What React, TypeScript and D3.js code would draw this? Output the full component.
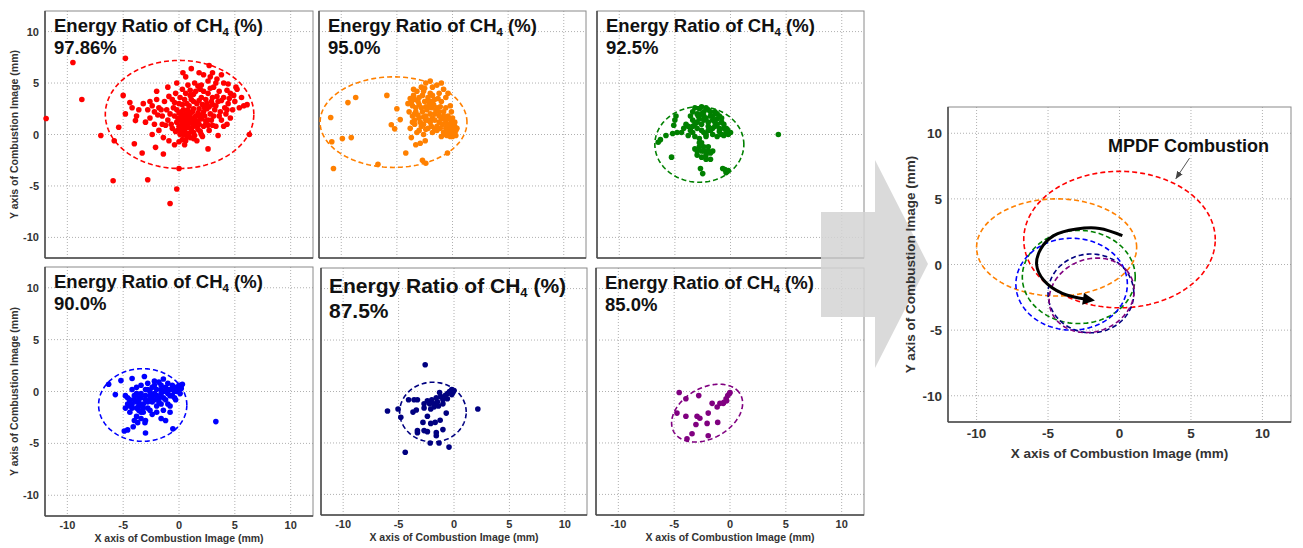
import * as d3 from "d3";

type Pt = [number, number];

const tickValues = [-10, -5, 0, 5, 10];
const ratioLabels = ["97.86%", "95.0%", "92.5%", "90.0%", "87.5%", "85.0%"];
const seriesColors = ["#ff0000", "#ff8000", "#008000", "#0000ff", "#000080", "#800080"];

const redPoints: Pt[] = [
  [-11.9, 1.55], [-9.5, 7.0], [-8.7, 3.4], [-4.8, 7.4], [-7.0, -0.1], [-5.8, -0.6], [-5.9, -4.5],
  [-5.4, 0.7], [-5.0, 3.8], [-4.8, 2.0], [-4.4, 3.1], [-4.0, -0.9], [-3.9, 1.35], [-3.3, -1.8],
  [-2.8, -4.4], [-2.1, -1.25], [-1.4, -1.9], [-0.8, -6.7], [-0.2, -5.3], [0.0, -3.3], [2.6, -1.4],
  [4.3, 1.0], [6.3, 0.0], [5.1, 4.6], [6.1, 2.9], [2.7, 6.7], [1.1, 6.4], [0.35, 6.0],
  [0.5, 1.0], [0.8, 1.5], [1.0, 2.0], [1.2, 1.2], [0.3, 0.5], [0.6, 0.2], [1.5, 1.8], [1.8, 2.5],
  [2.0, 1.5], [0.2, 1.8], [-0.2, 1.2], [0.0, 0.8], [0.4, 2.4], [0.9, 2.8], [1.3, 3.2], [1.6, 0.8],
  [2.2, 2.2], [2.5, 3.0], [2.8, 2.0], [1.1, 0.4], [0.7, -0.2], [0.1, 0.0], [-0.3, 0.3], [0.3, -0.5],
  [0.0, -0.7], [1.4, -0.1], [1.9, 0.3], [2.4, 1.0], [2.9, 1.4], [3.2, 2.4], [3.5, 3.2], [3.0, 3.6],
  [2.6, 4.0], [2.0, 3.6], [1.5, 4.2], [1.0, 3.8], [0.5, 3.4], [0.0, 3.0], [-0.5, 2.6], [-0.8, 2.0],
  [-1.0, 1.4], [-0.6, 0.6], [-1.2, 0.9], [-1.5, 1.8], [-1.8, 2.6], [-1.3, 3.2], [-0.9, 3.7],
  [-0.3, 4.0], [0.3, 4.4], [0.8, 4.8], [1.4, 5.0], [2.0, 4.8], [2.6, 5.2], [3.1, 4.6], [3.6, 4.2],
  [4.0, 3.6], [4.4, 3.0], [4.8, 2.4], [4.2, 2.0], [3.8, 1.4], [3.3, 0.8], [2.7, 0.4], [2.1, -0.2],
  [1.6, -0.6], [4.6, 4.0], [5.0, 3.2], [5.4, 2.6], [4.0, 5.0], [3.4, 5.4], [2.2, 5.8], [1.8, 6.0],
  [-2.0, 3.4], [-2.4, 2.8], [-2.8, 2.4], [-3.2, 3.0], [-3.6, 2.4], [-2.6, 1.6], [-2.2, 1.0],
  [-1.8, 0.4], [-2.4, 0.0], [-1.4, -0.3], [-0.9, -0.6], [-0.4, -1.0], [0.5, -1.0], [-3.0, 1.2],
  [-3.8, 1.8], [-4.2, 2.6], [-2.0, 4.2], [-1.0, 4.6], [-0.2, 5.0], [0.6, 5.6], [3.0, 6.0],
  [3.8, 5.8], [5.2, 4.4], [5.6, 3.6], [5.8, 2.8], [4.6, 1.6], [4.0, 0.8], [3.5, -0.1], [1.0, -0.3],
  [0.2, 2.2], [0.6, 2.0], [1.3, 2.5], [1.7, 1.3], [2.3, 1.8], [0.9, 1.1], [1.2, 0.7], [0.4, 1.4],
  [-0.1, 1.6], [1.6, 3.0], [2.1, 2.9], [2.5, 2.5], [3.3, 2.8], [3.7, 2.2], [2.9, 3.2], [4.3, 4.3],
  [1.9, 4.4], [1.1, 3.4], [0.7, 3.0], [-0.6, 3.4], [-1.6, 2.4], [1.4, 1.6], [1.0, 1.7], [0.8, 0.7],
  [1.8, 1.0], [2.6, 1.4], [0.2, 0.9],
  [0.3, 1.2], [0.7, 1.3], [1.1, 1.5], [1.5, 1.2], [1.9, 1.9], [2.3, 2.6], [0.5, 0.6], [0.9, 0.1],
  [1.3, 0.2], [1.7, 0.5], [2.2, 0.8], [0.1, 1.4], [-0.4, 1.8], [-0.2, 2.4], [0.3, 2.9], [0.8, 2.4],
  [1.2, 2.2], [1.7, 2.1], [2.7, 2.7], [3.0, 2.9], [3.4, 3.7], [3.8, 3.3], [4.1, 2.6], [4.5, 3.5],
  [2.4, 3.4], [1.8, 3.3], [1.3, 3.9], [0.6, 4.0], [0.1, 3.6], [-0.4, 3.1], [2.2, 4.2], [2.8, 4.5],
  [3.3, 5.0], [1.7, 4.7], [1.0, 4.3], [0.4, 0.0], [-0.1, 0.4], [0.6, -0.6], [1.3, -0.4], [2.0, 0.0],
  [2.6, 0.9], [3.1, 1.8], [0.0, 2.1], [0.6, 1.7], [1.4, 0.9], [1.9, 1.6], [2.4, 1.3], [0.2, 0.3],
  [-0.7, 1.0], [-1.1, 2.4], [-1.9, 1.9], [-2.2, 2.2], [-2.6, 3.2], [-1.5, 1.0], [4.9, 3.8],
  [4.3, 2.4], [3.6, 1.8], [3.0, 0.9], [2.8, 5.6], [4.4, 4.9],
];

const orangePoints: Pt[] = [
  [-10.95, 1.65], [-10.85, -0.7], [-10.7, -3.3], [-9.9, -0.4], [-9.1, -0.3], [-9.4, 3.1], [-8.7, 3.6],
  [-5.9, 3.8], [-6.7, -2.9], [-5.0, 2.5], [-5.5, 0.95], [-5.2, 0.55], [-4.7, 1.45], [-4.2, -1.8],
  [-3.3, -1.0], [-2.9, -0.85], [-2.45, -0.6], [-2.7, -2.5], [-2.4, -2.8], [-0.45, -1.8], [-3.7, -0.3],
  [-3.8, 3.5], [-3.5, 3.8], [-3.2, 4.2], [-3.6, 2.8], [-3.3, 2.2], [-3.0, 1.6], [-3.4, 1.0],
  [-3.8, 0.6], [-3.0, 0.4], [-2.6, 1.0], [-2.4, 1.8], [-2.8, 2.6], [-2.5, 3.2], [-2.2, 3.6],
  [-2.8, 4.6], [-2.4, 5.0], [-2.0, 5.2], [-1.8, 4.6], [-2.0, 4.0], [-1.6, 3.4], [-1.9, 2.6],
  [-2.0, 2.0], [-1.6, 1.4], [-2.2, 0.6], [-1.8, 0.2], [-1.4, 0.8], [-1.2, 1.8], [-1.4, 2.6],
  [-1.0, 3.2], [-1.2, 4.0], [-0.8, 4.4], [-0.6, 3.6], [-0.6, 2.6], [-0.8, 1.8], [-0.9, 1.0],
  [-0.6, 0.6], [-0.4, 0.2], [-0.2, 0.0], [0.0, -0.2], [0.2, 0.2], [0.0, 0.6], [-0.2, 1.0],
  [0.2, 1.2], [0.0, 1.6], [-0.3, 1.5], [-0.5, -0.1], [-0.8, 0.2], [-1.0, -0.2], [0.3, -0.1],
  [0.4, 0.6], [-3.1, 3.2], [-2.7, 3.8], [-2.3, 2.4], [-2.9, 1.2], [-3.2, 0.2], [-2.6, 0.0],
  [-2.0, 1.2], [-1.6, 2.0], [-1.2, 2.2], [-3.6, 1.8], [-3.9, 2.2], [-4.0, 3.0], [-3.5, 4.4],
  [-1.4, 4.8], [-1.0, 5.0], [-0.4, 4.0], [-0.2, 2.8], [-0.1, 2.2], [-0.6, 1.2], [-1.4, 0.4],
  [-2.4, 1.4], [-2.1, 3.0], [-1.8, 3.8], [-2.6, 4.2], [-3.4, 3.4], [-0.3, 0.4], [0.1, 0.9],
  [-0.4, 0.8], [-0.7, 0.0], [-1.1, 0.6],
  [-3.7, 3.1], [-3.3, 2.6], [-3.0, 2.9], [-2.7, 2.2], [-2.4, 2.7], [-2.2, 3.3], [-1.9, 3.2],
  [-1.7, 2.9], [-1.5, 2.4], [-1.8, 1.6], [-2.2, 1.4], [-2.6, 1.7], [-3.1, 1.9], [-3.4, 1.4],
  [-2.8, 0.8], [-2.4, 0.5], [-1.9, 0.8], [-1.6, 0.5], [-1.2, 1.2], [-1.0, 1.5], [-0.7, 1.5],
  [-0.5, 1.0], [-0.3, 0.7], [-0.1, 0.3], [0.1, 0.0], [0.3, 0.4], [0.2, 0.8], [-0.1, 1.3],
  [-0.4, 1.8], [-0.8, 2.2], [-1.1, 2.7], [-1.3, 3.5], [-2.5, 4.5], [-3.0, 3.6], [-3.4, 2.0],
  [-3.6, 1.2], [-2.0, 2.7], [-0.2, -0.2], [0.0, 0.4], [-0.5, 0.4],
];

const greenPoints: Pt[] = [
  [-4.0, 1.0], [-3.6, 0.4], [-3.4, 1.4], [-3.0, 2.0], [-2.8, 2.5], [-2.4, 2.2], [-2.2, 1.6],
  [-2.6, 1.0], [-3.0, 0.6], [-2.4, 0.2], [-2.0, 0.8], [-1.8, 1.8], [-1.4, 2.2], [-1.0, 1.8],
  [-0.8, 1.2], [-0.6, 0.6], [-0.4, 0.2], [-0.2, 0.0], [0.0, 0.2], [-0.6, -0.1], [-1.0, 0.3],
  [-1.4, 0.8], [-1.6, 1.4], [-2.0, 2.4], [-2.6, 2.7], [-3.2, 2.6], [-3.6, 1.8], [-4.2, 0.6],
  [-3.8, -0.1], [-3.2, -0.2], [-2.8, -0.4], [-2.2, -0.2], [-1.6, 0.0], [-1.2, -0.2], [-0.8, 0.0],
  [-2.6, -0.8], [-2.8, -1.2], [-3.2, -1.4], [-2.4, -1.6], [-2.0, -1.2], [-2.2, -2.0], [-1.8, -2.4],
  [-2.6, -2.2], [-3.0, -2.0], [-1.6, -1.6], [-2.7, -3.3], [-2.5, -3.8], [-0.7, -3.3], [-0.35, -3.6],
  [-0.5, -3.4], [-1.2, 1.0], [-2.0, 1.2], [-2.4, 1.4], [-3.0, 1.2], [-1.8, 0.4], [-0.3, 0.5],
  [-1.2, 1.5], [-2.9, 1.8], [-3.4, 0.8], [-4.4, 0.2], [-5.3, -2.2], [-6.5, -0.75], [-6.3, -0.5],
  [-5.8, -0.1], [-5.2, 0.1], [-5.0, 1.4], [-5.1, 0.9], [-4.8, 0.2], [-4.9, 1.8], [4.3, 0.0],
  [-3.8, 0.8], [-3.4, 0.2], [-3.2, 1.0], [-2.8, 1.5], [-2.6, 2.0], [-2.2, 2.6], [-1.8, 2.2],
  [-1.6, 1.8], [-1.2, 2.0], [-0.8, 1.6], [-0.6, 1.0], [-0.4, 0.6], [-0.2, 0.3], [-1.0, 0.6],
  [-1.6, 0.6], [-2.0, 0.4], [-2.2, 0.0], [-2.6, 0.4], [-2.8, -0.8], [-2.4, -1.2], [-2.0, -1.6],
  [-2.6, -1.6], [-3.0, -1.6], [-2.2, -2.4], [-1.8, -1.8], [-0.4, -3.7], [-0.2, -3.5], [-1.4, 1.2],
  [-2.4, 1.8], [-3.4, 2.2],
];

const bluePoints: Pt[] = [
  [-4.8, -0.4], [-4.6, -1.2], [-4.4, -0.8], [-4.2, -1.6], [-4.0, -0.4], [-3.8, -1.0], [-3.6, -1.8],
  [-3.6, -0.6], [-3.4, -0.2], [-3.2, -1.2], [-3.0, -0.8], [-3.0, 0.2], [-2.8, -1.6], [-2.6, -0.4],
  [-2.4, -1.0], [-2.4, 0.4], [-2.2, -0.2], [-2.0, -1.4], [-2.0, 0.2], [-1.8, -0.6], [-1.6, 0.6],
  [-1.6, -1.2], [-1.4, 0.0], [-1.2, -0.8], [-1.2, 0.4], [-1.0, 0.8], [-1.0, -0.2], [-0.8, 0.2],
  [-0.6, 0.6], [-0.6, -0.4], [-0.4, 0.0], [-0.2, 0.4], [0.0, 0.6], [0.2, 0.3], [0.3, 0.7],
  [0.1, -0.2], [-0.3, -0.8], [-0.8, -1.4], [-1.4, -1.8], [-1.6, -2.6], [-2.4, -2.2], [-3.2, -2.0],
  [-3.8, -2.4], [-4.4, -2.0], [-4.8, -1.6], [-3.4, 0.6], [-2.8, 0.8], [-2.2, 1.0], [-1.8, 0.9],
  [-4.2, 0.2], [-3.8, 0.4], [-2.6, -1.8], [-2.0, -2.0], [-1.0, -1.2], [-0.4, -0.6], [-3.4, -2.6],
  [-3.0, -2.8], [-4.0, -2.8], [-6.3, 0.7], [-5.7, -0.3], [-5.2, 1.05], [-4.2, 1.25], [-3.1, 1.45],
  [-4.9, -3.8], [-4.6, -3.7], [-4.1, -3.4], [-3.7, -3.0], [-3.0, -4.0], [-0.55, -3.6], [-3.05, -3.0],
  [3.3, -2.9], [-1.4, 1.2], [-2.6, 0.0], [-3.6, -1.4], [-4.4, -1.0], [-1.2, -2.8], [-0.8, -2.0],
  [-4.6, -0.6], [-4.2, -1.2], [-4.0, -0.8], [-3.8, -0.2], [-3.6, -1.0], [-3.4, -0.6], [-3.2, -1.6],
  [-3.0, -0.4], [-2.8, -1.0], [-2.6, -0.8], [-2.4, -0.4], [-2.2, -0.8], [-2.0, -0.4], [-1.8, -1.0],
  [-1.6, -0.2], [-1.4, -0.6], [-1.2, 0.0], [-1.0, 0.2], [-0.8, -0.4], [-0.6, 0.2], [-0.4, 0.4],
  [-0.2, 0.0], [0.0, 0.2], [0.2, 0.6], [-2.8, 0.2], [-2.2, 0.6], [-1.6, 0.2], [-3.8, -1.6],
  [-4.4, -1.4], [-3.4, -2.0],
];

const navyPoints: Pt[] = [
  [-2.6, 2.6], [-6.0, -1.9], [-5.05, -1.7], [-4.8, -2.5], [-4.1, -0.8], [-3.6, -0.8], [-3.3, -0.8],
  [-3.7, -2.0], [-3.4, -1.8], [-2.7, -1.6], [-2.7, -1.2], [-2.4, -2.4], [-2.8, -3.0], [-3.3, -3.8],
  [-3.3, -4.0], [-2.7, -3.8], [-2.4, -3.9], [-2.15, -5.0], [-1.35, -5.0], [-4.4, -5.9], [-0.45, -5.4],
  [2.15, -1.7], [-1.6, -4.3], [-1.6, -4.0], [-1.0, -3.7], [-2.1, -3.1], [-1.7, -3.0], [-1.25, -2.8],
  [-0.7, -2.1], [-2.1, -1.7], [-2.2, -1.2], [-2.0, -0.8], [-1.8, -1.2], [-1.6, -0.6], [-1.5, -1.0],
  [-1.4, -1.4], [-1.2, -0.5], [-1.0, -0.8], [-0.8, -0.4], [-0.6, -0.2], [-0.4, 0.0], [-0.2, 0.2],
  [0.0, 0.1], [-0.2, -0.3], [-0.6, -0.7], [-1.0, -1.2], [-1.8, -1.5], [-2.4, -0.9], [-0.1, -0.1],
  [-1.3, -0.1],
];

const purplePoints: Pt[] = [
  [-4.55, -0.1], [-3.95, -0.7], [-2.8, -0.4], [-4.75, -2.1], [-3.95, -2.4], [-3.05, -3.2],
  [-2.95, -2.4], [-2.7, -2.6], [-2.05, -3.1], [-1.95, -2.1], [-1.1, -3.0], [-3.4, -4.1],
  [-3.85, -4.6], [-1.95, -4.3], [-1.6, -1.15], [-1.15, -1.5], [-0.9, -1.15], [-0.6, -1.15],
  [-0.35, -0.7], [-0.2, -0.4], [-0.05, -0.2], [-0.3, -0.9], [0.0, -0.1], [-0.55, -1.05],
];

// ellipse: [cx, cy, rx, ry, rotation deg]
const panelEllipses: number[][] = [
  [0.05, 1.95, 6.65, 5.25, 0],
  [-5.3, 1.2, 6.6, 4.4, 0],
  [-2.8, -0.97, 4.0, 3.67, 0],
  [-3.25, -1.3, 3.95, 3.5, 0],
  [-1.9, -2.0, 3.0, 2.9, 0],
  [-2.05, -2.1, 3.5, 2.4, 35],
];
const summaryEllipses: number[][] = [
  [0.0, 1.9, 6.7, 5.2, 0],
  [-4.4, 1.3, 5.6, 3.7, 0],
  [-2.85, -0.95, 3.95, 3.55, 0],
  [-3.35, -1.5, 3.9, 3.5, 0],
  [-2.0, -2.2, 3.0, 3.0, 0],
  [-1.95, -2.35, 3.1, 2.7, 35],
];
const trendPath: Pt[] = [
  [0.2, 2.2], [-1.4, 2.75], [-3.0, 2.7], [-4.6, 2.2], [-5.5, 1.2], [-5.8, 0.0],
  [-5.3, -1.2], [-4.0, -2.2], [-2.3, -2.65],
];

const allPoints = [redPoints, orangePoints, greenPoints, bluePoints, navyPoints, purplePoints];

const FONT = "'Liberation Sans', Arial, sans-serif";
const domain: [number, number] = [-12, 12];

const frames = [
  { x0: 45, x1: 313, y0: 11, y1: 258 },
  { x0: 319, x1: 586, y0: 11, y1: 258 },
  { x0: 597, x1: 864, y0: 11, y1: 258 },
  { x0: 45, x1: 313, y0: 267, y1: 516 },
  { x0: 321, x1: 587, y0: 268, y1: 515 },
  { x0: 596, x1: 864, y0: 268, y1: 515 },
];

const ellipsePath = (e: number[], x: d3.ScaleLinear<number, number>, y: d3.ScaleLinear<number, number>) => {
  const [cx, cy, rx, ry, rot] = e;
  const a = (rot * Math.PI) / 180;
  const pts: Pt[] = d3.range(0, 360, 2).map((deg) => {
    const t = (deg * Math.PI) / 180;
    const px = rx * Math.cos(t);
    const py = ry * Math.sin(t);
    return [cx + px * Math.cos(a) - py * Math.sin(a), cy + px * Math.sin(a) + py * Math.cos(a)];
  });
  return d3
    .line<Pt>()
    .x((d) => x(d[0]))
    .y((d) => y(d[1]))
    .curve(d3.curveLinearClosed)(pts) as string;
};

const Grid = ({ x, y, f }: any) => (
  <g>
    {tickValues.map((t) => (
      <line key={"v" + t} x1={x(t)} x2={x(t)} y1={f.y0} y2={f.y1} stroke="#b0b0b0" strokeWidth={1} strokeDasharray="1,2" />
    ))}
    {tickValues.map((t) => (
      <line key={"h" + t} x1={f.x0} x2={f.x1} y1={y(t)} y2={y(t)} stroke="#b0b0b0" strokeWidth={1} strokeDasharray="1,2" />
    ))}
    <rect x={f.x0} y={f.y0} width={f.x1 - f.x0} height={f.y1 - f.y0} fill="none" stroke="#8a8a8a" strokeWidth={1} />
    <line x1={f.x0} x2={f.x0} y1={f.y0} y2={f.y1} stroke="#4a4a4a" strokeWidth={1.5} />
    <line x1={f.x0} x2={f.x1} y1={f.y1} y2={f.y1} stroke="#4a4a4a" strokeWidth={1.5} />
  </g>
);

const Panel = ({ i }: { i: number }) => {
  const f = frames[i];
  const x = d3.scaleLinear().domain(domain).range([f.x0, f.x1]);
  const y = d3.scaleLinear().domain(domain).range([f.y1, f.y0]);
  const color = seriesColors[i];
  const showX = i >= 3;
  const showY = i % 3 === 0;
  const big = i === 4;
  const fs = big ? 21 : 18.5;
  const tx = f.x0 + (big ? 8 : 9);
  const ty = f.y0 + (big ? 25 : 21);
  return (
    <g>
      <Grid x={x} y={y} f={f} />
      {allPoints[i].map((d, k) => (
        <circle key={k} cx={x(d[0])} cy={y(d[1])} r={2.8} fill={color} />
      ))}
      <path d={ellipsePath(panelEllipses[i], x, y)} fill="none" stroke={color} strokeWidth={1.6} strokeDasharray="5,3" />
      <text x={tx} y={ty} fontFamily={FONT} fontWeight="bold" fontSize={fs} fill="#111">
        Energy Ratio of CH<tspan fontSize={fs * 0.62} dy={4}>4</tspan>
        <tspan dy={-4}> (%)</tspan>
      </text>
      <text x={tx} y={ty + (big ? 25 : 22)} fontFamily={FONT} fontWeight="bold" fontSize={fs} fill="#111">
        {ratioLabels[i]}
      </text>
      {showX &&
        tickValues.map((t) => (
          <text key={"xt" + t} x={x(t)} y={f.y1 + 13} textAnchor="middle" fontFamily={FONT} fontWeight="bold" fontSize={11} fill="#333">
            {t}
          </text>
        ))}
      {showX && (
        <text x={(f.x0 + f.x1) / 2} y={f.y1 + 26} textAnchor="middle" fontFamily={FONT} fontWeight="bold" fontSize={10.5} fill="#333">
          X axis of Combustion Image (mm)
        </text>
      )}
      {showY &&
        tickValues.map((t) => (
          <text key={"yt" + t} x={f.x0 - 6} y={y(t) + 4} textAnchor="end" fontFamily={FONT} fontWeight="bold" fontSize={11} fill="#333">
            {t}
          </text>
        ))}
      {showY && (
        <text
          transform={`translate(${f.x0 - 27},${(f.y0 + f.y1) / 2}) rotate(-90)`}
          textAnchor="middle"
          fontFamily={FONT}
          fontWeight="bold"
          fontSize={10.5}
          fill="#333"
        >
          Y axis of Combustion Image (mm)
        </text>
      )}
    </g>
  );
};

const Summary = () => {
  const f = { x0: 948, x1: 1291, y0: 107, y1: 422 };
  const x = d3.scaleLinear().domain(domain).range([f.x0, f.x1]);
  const y = d3.scaleLinear().domain(domain).range([f.y1, f.y0]);
  const trend = d3
    .line<Pt>()
    .x((d) => x(d[0]))
    .y((d) => y(d[1]))
    .curve(d3.curveCatmullRom)(trendPath) as string;
  return (
    <g>
      <Grid x={x} y={y} f={f} />
      {summaryEllipses.map((e, k) => (
        <path key={k} d={ellipsePath(e, x, y)} fill="none" stroke={seriesColors[k]} strokeWidth={1.6} strokeDasharray="5,3" />
      ))}
      <path d={trend} fill="none" stroke="#000" strokeWidth={3} markerEnd="url(#blackHead)" />
      <text x={x(-0.8)} y={y(8.6)} fontFamily={FONT} fontWeight="bold" fontSize={18} fill="#111">
        MPDF Combustion
      </text>
      <line x1={x(4.9)} y1={y(8.1)} x2={x(3.95)} y2={y(6.55)} stroke="#555" strokeWidth={1} markerEnd="url(#thinHead)" />
      {tickValues.map((t) => (
        <text key={"xt" + t} x={x(t)} y={f.y1 + 16} textAnchor="middle" fontFamily={FONT} fontWeight="bold" fontSize={13.5} fill="#333">
          {t}
        </text>
      ))}
      <text x={(f.x0 + f.x1) / 2} y={f.y1 + 36} textAnchor="middle" fontFamily={FONT} fontWeight="bold" fontSize={13.5} fill="#333">
        X axis of Combustion Image (mm)
      </text>
      {tickValues.map((t) => (
        <text key={"yt" + t} x={f.x0 - 6} y={y(t) + 5} textAnchor="end" fontFamily={FONT} fontWeight="bold" fontSize={13.5} fill="#333">
          {t}
        </text>
      ))}
      <text
        transform={`translate(${f.x0 - 33},${(f.y0 + f.y1) / 2}) rotate(-90)`}
        textAnchor="middle"
        fontFamily={FONT}
        fontWeight="bold"
        fontSize={13.5}
        fill="#333"
      >
        Y axis of Combustion Image (mm)
      </text>
    </g>
  );
};

export default function App() {
  // big grey arrow between the panel grid and the summary plot
  const arrow: Pt[] = [[821, 212], [875, 212], [875, 160], [928, 264], [875, 368], [875, 317], [821, 317]];
  return (
    <svg width={1303} height={548} style={{ position: "absolute", left: 0, top: 0, background: "#fff" }}>
      <defs>
        <marker id="blackHead" viewBox="0 0 10 10" refX={3} refY={5} markerWidth={4.5} markerHeight={4} orient="auto">
          <path d="M0,0 L10,5 L0,10 z" fill="#000" />
        </marker>
        <marker id="thinHead" viewBox="0 0 10 10" refX={9} refY={5} markerWidth={8} markerHeight={8} orient="auto">
          <path d="M0,1 L10,5 L0,9 z" fill="#444" />
        </marker>
      </defs>
      {frames.map((_, i) => (
        <Panel key={i} i={i} />
      ))}
      <polygon points={arrow.map((p) => p.join(",")).join(" ")} fill="#d4d4d4" opacity={0.85} />
      <Summary />
    </svg>
  );
}
